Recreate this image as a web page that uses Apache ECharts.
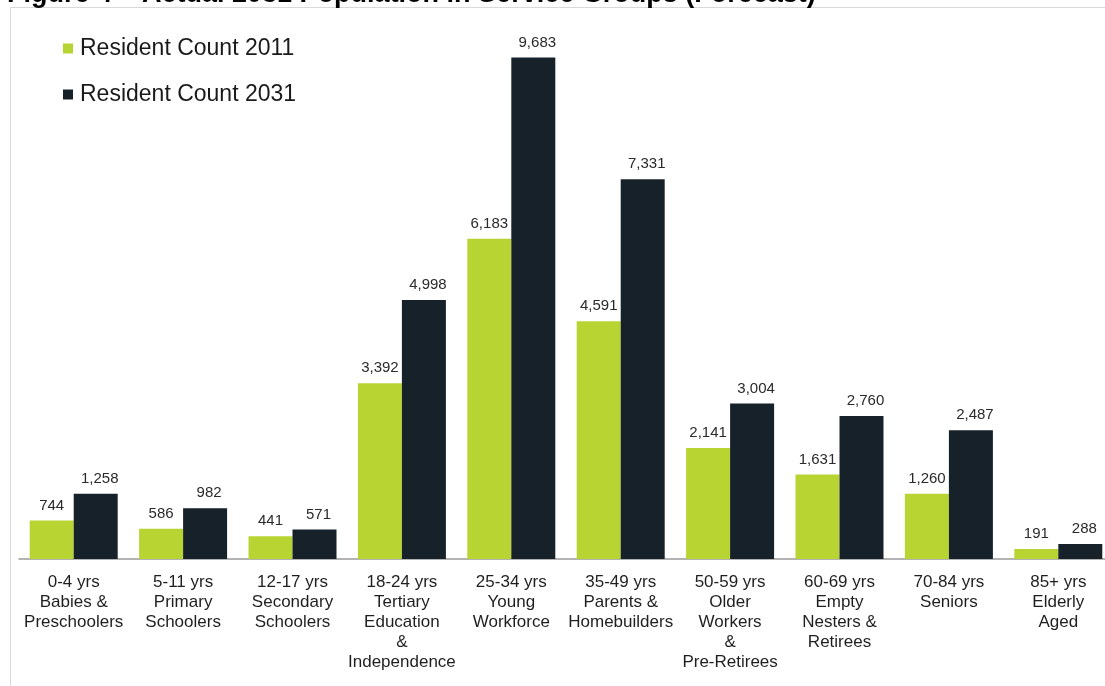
<!DOCTYPE html>
<html>
<head>
<meta charset="utf-8">
<script src="https://cdn.jsdelivr.net/npm/echarts@6/dist/echarts.min.js"></script>
<style>
html,body{margin:0;padding:0;background:#fff;}
#chart{width:1105px;height:686px;}
</style>
</head>
<body>
<div id="chart"></div>
<script>
const categories = [
  "0-4 yrs\nBabies &\nPreschoolers",
  "5-11 yrs\nPrimary\nSchoolers",
  "12-17 yrs\nSecondary\nSchoolers",
  "18-24 yrs\nTertiary\nEducation\n&\nIndependence",
  "25-34 yrs\nYoung\nWorkforce",
  "35-49 yrs\nParents &\nHomebuilders",
  "50-59 yrs\nOlder\nWorkers\n&\nPre-Retirees",
  "60-69 yrs\nEmpty\nNesters &\nRetirees",
  "70-84 yrs\nSeniors",
  "85+ yrs\nElderly\nAged"
];
const count2011 = [744, 586, 441, 3392, 6183, 4591, 2141, 1631, 1260, 191];
const count2031 = [1258, 982, 571, 4998, 9683, 7331, 3004, 2760, 2487, 288];
const seriesNames = ["Resident Count 2011", "Resident Count 2031"];
const titleText = "Figure 4 \u2013 Actual 2031 Population in Service Groups (Forecast)";

const FONT = "'Liberation Sans', Arial, sans-serif";
const chart = echarts.init(document.getElementById('chart'), null, {renderer: 'canvas'});
const labelFmt = p => Number(p.value).toLocaleString('en-US');

chart.setOption({
  backgroundColor: '#fff',
  animation: false,
  title: {
    text: titleText,
    left: 2,
    top: -24,
    textStyle: {fontFamily: FONT, fontSize: 27, fontWeight: 'bold', color: '#000'}
  },
  graphic: [{
    type: 'rect',
    shape: {x: 10.5, y: 7.5, width: 1200, height: 700},
    style: {fill: 'none', stroke: '#d9d9d9', lineWidth: 1},
    silent: true,
    z: -1
  }],
  legend: {
    orient: 'vertical',
    left: 58,
    top: 32,
    itemWidth: 10,
    itemHeight: 10,
    itemGap: 23,
    icon: 'rect',
    textStyle: {fontFamily: FONT, fontSize: 23, color: '#1a1a1a', padding: [0, 0, 0, 2]},
    data: seriesNames
  },
  grid: {left: 19, width: 1094, top: 41, bottom: 127, containLabel: false, outerBoundsMode: 'none'},
  xAxis: {
    type: 'category',
    data: categories,
    axisTick: {show: false},
    axisLine: {show: true, lineStyle: {color: '#9a9a9a', width: 1.5}},
    axisLabel: {
      interval: 0,
      margin: 13,
      fontFamily: FONT,
      fontSize: 17,
      lineHeight: 20,
      color: '#1f1f1f'
    }
  },
  yAxis: {type: 'value', min: 0, max: 10000, show: false, splitLine: {show: false}},
  series: [
    {
      name: seriesNames[0],
      type: 'bar',
      data: count2011,
      barWidth: 44,
      barGap: '0%',
      itemStyle: {color: '#b8d432'},
      label: {show: true, position: 'top', distance: 7.5, formatter: labelFmt,
        fontFamily: FONT, fontSize: 15, color: '#2a2a2a'}
    },
    {
      name: seriesNames[1],
      type: 'bar',
      data: count2031,
      barWidth: 44,
      barGap: '0%',
      itemStyle: {color: '#17212a'},
      label: {show: true, position: 'top', distance: 7.5, offset: [4, 0], formatter: labelFmt,
        fontFamily: FONT, fontSize: 15, color: '#2a2a2a'}
    }
  ]
});
</script>
</body>
</html>
